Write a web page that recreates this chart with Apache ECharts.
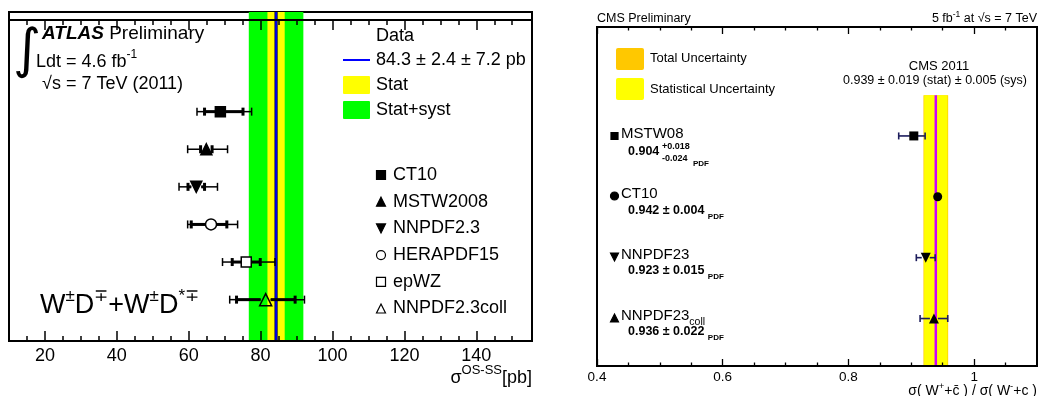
<!DOCTYPE html>
<html><head><meta charset="utf-8">
<script src="https://cdn.jsdelivr.net/npm/echarts@6/dist/echarts.min.js"></script>
<style>
html,body{margin:0;padding:0;background:#fff}
#wrap{position:relative;width:1038px;height:396px}
#c,#ov{position:absolute;left:0;top:0;width:1038px;height:396px}
#ov{pointer-events:none}
</style>
</head><body><div id="wrap"><div id="c"></div><div id="ov"></div></div>
<script>
// ===== Left panel (ATLAS) data =====
const atlasModels   = ['CT10', 'MSTW2008', 'NNPDF2.3', 'HERAPDF15', 'epWZ', 'NNPDF2.3coll'];
const atlasRow      = [6, 5, 4, 3, 2, 1];
const atlasCentral  = [68.8, 64.9, 62.1, 66.2, 76.0, 81.4];
const atlasInnerLo  = [64.4, 63.3, 59.8, 60.7, 72.1, 73.3];
const atlasInnerHi  = [75.1, 66.5, 64.4, 70.6, 79.9, 89.6];
const atlasOuterLo  = [62.3, 59.7, 57.3, 59.7, 69.4, 71.4];
const atlasOuterHi  = [77.5, 70.8, 68.0, 73.6, 84.0, 92.2];
const atlasMeas     = 84.3;
const atlasStat     = 2.4;
const atlasSyst     = 7.2;
const atlasTickLabels = [20, 40, 60, 80, 100, 120, 140];
const atlasMinorTicks = [15, 25, 30, 35, 45, 50, 55, 65, 70, 75, 85, 90, 95, 105, 110, 115, 125, 130, 135, 145, 150, 155];

// ===== Right panel (CMS) data =====
const cmsModels  = ['MSTW08', 'CT10', 'NNPDF23', 'NNPDF23coll'];
const cmsRow     = [4, 3, 2, 1];
const cmsCentral = [0.904, 0.942, 0.923, 0.936];
const cmsErrLo   = [0.024, 0.004, 0.015, 0.022];
const cmsErrHi   = [0.018, 0.004, 0.015, 0.022];
const cmsMeas    = 0.939;
const cmsStat    = 0.019;
const cmsSyst    = 0.005;
const cmsBandTop = 4.67;
const cmsTickLabels = [0.4, 0.6, 0.8, 1.0];
const cmsMinorTicks = [0.45, 0.5, 0.55, 0.65, 0.7, 0.75, 0.85, 0.9, 0.95, 1.05];

// ===== styles / layout =====
const FONT = "'Liberation Sans', Arial, Helvetica, sans-serif";
const atlasMarkerStyle = [
  {symbol: 'rect', size: 10, fill: '#000'},
  {symbol: 'triangle', size: 11, fill: '#000'},
  {symbol: 'triangle', size: 11, fill: '#000', rotate: 180},
  {symbol: 'circle', size: 11, fill: '#fff'},
  {symbol: 'rect', size: 10, fill: '#fff'},
  {symbol: 'triangle', size: 12, fill: 'rgba(0,0,0,0)'}
];
const cmsMarkerStyle = [
  {symbol: 'rect', size: 9},
  {symbol: 'circle', size: 9},
  {symbol: 'triangle', size: 10, rotate: 180},
  {symbol: 'triangle', size: 10}
];
const GRID_ATLAS = {left: 9, top: 12, width: 523, height: 329};
const GRID_CMS = {left: 597, top: 27, width: 440, height: 339};
const AX = {atlas: {min: 10, max: 155.5, ymin: -0.1, ymax: 8.65}, cms: {min: 0.4, max: 1.1, ymin: 0.22, ymax: 5.79}};

const chart = echarts.init(document.getElementById('c'));

function xAx(grid, min, max, vals, label) {
  return {
    type: 'value', gridIndex: grid, min: min, max: max,
    axisLine: {onZero: false, lineStyle: {color: '#000', width: 2}},
    splitLine: {show: false},
    axisTick: {show: false},
    axisLabel: Object.assign({show: true, customValues: vals, color: '#000', fontFamily: FONT}, label)
  };
}

const atlasTotal = Math.sqrt(atlasStat * atlasStat + atlasSyst * atlasSyst);
const cmsTotal = Math.sqrt(cmsStat * cmsStat + cmsSyst * cmsSyst);

function bandRender(params, api) {
  const cs = params.coordSys;
  const x0 = api.coord([api.value(0), api.value(2)]);
  const x1 = api.coord([api.value(1), api.value(2)]);
  const top = api.value(3) ? x0[1] : cs.y;
  return {type: 'rect', shape: {x: x0[0], y: top, width: x1[0] - x0[0], height: cs.y + cs.height - top},
    style: {fill: api.visual('color')}};
}
function vlineRender(params, api) {
  const cs = params.coordSys;
  const p = api.coord([api.value(0), api.value(1)]);
  const top = api.value(2) ? p[1] : cs.y;
  const w = api.value(3);
  return {type: 'line', shape: {x1: p[0], y1: top, x2: p[0], y2: cs.y + cs.height},
    style: {stroke: api.visual('color'), lineWidth: w}};
}
function atlasErrRender(params, api) {
  const yv = api.value(1);
  const c = api.coord([api.value(0), yv]);
  const oL = api.coord([api.value(2), yv])[0], oH = api.coord([api.value(3), yv])[0];
  const iL = api.coord([api.value(4), yv])[0], iH = api.coord([api.value(5), yv])[0];
  const y = c[1], g = 5, kids = [];
  const seg = (a, b, w) => { if (b > a) kids.push({type: 'line', shape: {x1: a, y1: y, x2: b, y2: y}, style: {stroke: '#000', lineWidth: w}}); };
  const cap = (x, w) => kids.push({type: 'line', shape: {x1: x, y1: y - 4, x2: x, y2: y + 4}, style: {stroke: '#000', lineWidth: w}});
  seg(oL, c[0] - g, 1.5); seg(c[0] + g, oH, 1.5);
  seg(iL, c[0] - g, 3); seg(c[0] + g, iH, 3);
  cap(oL, 1.5); cap(oH, 1.5); cap(iL, 3); cap(iH, 3);
  return {type: 'group', children: kids};
}
function cmsErrRender(params, api) {
  const yv = api.value(1);
  const c = api.coord([api.value(0), yv]);
  const lo = api.coord([api.value(2), yv])[0], hi = api.coord([api.value(3), yv])[0];
  const y = c[1], g = 4, kids = [], col = '#1c1c5c';
  const seg = (a, b) => { if (b > a) kids.push({type: 'line', shape: {x1: a, y1: y, x2: b, y2: y}, style: {stroke: col, lineWidth: 1.6}}); };
  const cap = (x) => kids.push({type: 'line', shape: {x1: x, y1: y - 3.5, x2: x, y2: y + 3.5}, style: {stroke: col, lineWidth: 1.6}});
  seg(lo, c[0] - g); seg(c[0] + g, hi);
  if (c[0] - lo > g) cap(lo);
  if (hi - c[0] > g) cap(hi);
  return {type: 'group', children: kids};
}

function txt(x, y, text, size, extra) {
  return {type: 'text', x: x, y: y, z: 100, silent: true,
    style: Object.assign({text: text, fontSize: size, fontFamily: FONT, fill: '#000',
      align: 'left', verticalAlign: 'middle', textAlign: 'left', textVerticalAlign: 'middle'}, extra || {})};
}
function richTok(size, lh, va, more) {
  return Object.assign({fontSize: size, fontFamily: FONT, fill: '#000', lineHeight: lh, verticalAlign: va}, more || {});
}
function sym(kind, cx, cy, s, fill) {
  const st = {fill: fill, stroke: '#000', lineWidth: 1.2};
  if (kind === 'rect') return {type: 'rect', z: 100, shape: {x: cx - s / 2, y: cy - s / 2, width: s, height: s}, style: st};
  if (kind === 'circle') return {type: 'circle', z: 100, shape: {cx: cx, cy: cy, r: s / 2}, style: st};
  if (kind === 'up') return {type: 'polygon', z: 100, shape: {points: [[cx, cy - s / 2], [cx + s / 2, cy + s / 2], [cx - s / 2, cy + s / 2]]}, style: st};
  return {type: 'polygon', z: 100, shape: {points: [[cx, cy + s / 2], [cx + s / 2, cy - s / 2], [cx - s / 2, cy - s / 2]]}, style: st};
}

const graphics = [];
// ---- ATLAS texts ----
graphics.push(txt(13, 53, '\u222B', 54, {fontFamily: "'DejaVu Sans', sans-serif"}));
graphics.push(txt(42, 34, '{a|ATLAS}{m| Preliminary}', 19, {rich: {
  a: richTok(19, 22, 'middle', {fontWeight: 'bold', fontStyle: 'italic'}), m: richTok(19, 22, 'middle')}}));
graphics.push(txt(36, 62, '{m|Ldt = 4.6 fb}{s|-1}', 18, {rich: {m: richTok(18, 26, 'middle'), s: richTok(12, 12, 'top')}}));
graphics.push(txt(42, 84, '\u221As = 7 TeV (2011)', 18));
graphics.push(txt(376, 36, 'Data', 18));
graphics.push(txt(376, 60, '84.3 \u00B1 2.4 \u00B1 7.2 pb', 18));
graphics.push(txt(376, 85, 'Stat', 18));
graphics.push(txt(376, 110, 'Stat+syst', 18));
graphics.push({type: 'line', z: 100, shape: {x1: 343, y1: 60, x2: 370, y2: 60}, style: {stroke: '#0000ff', lineWidth: 2}});
graphics.push({type: 'rect', z: 100, shape: {x: 343, y: 76, width: 27, height: 18, r: 1}, style: {fill: '#ffff00'}});
graphics.push({type: 'rect', z: 100, shape: {x: 343, y: 101, width: 27, height: 18, r: 1}, style: {fill: '#00ff00'}});
const atlasLegKinds = [['rect', '#000'], ['up', '#000'], ['down', '#000'], ['circle', '#fff'], ['rect', '#fff'], ['up', '#fff']];
atlasModels.forEach((m, i) => {
  const yy = 175 + 26.7 * i;
  graphics.push(sym(atlasLegKinds[i][0], 381, yy, 9, atlasLegKinds[i][1]));
  graphics.push(txt(393, yy, m, 18));
});
graphics.push(txt(40, 306, '{m|W}{s|\u00B1}{m|D}{s|\u2213}{m|+W}{s|\u00B1}{m|D}{s|*\u2213}', 27, {rich: {
  m: richTok(27, 36, 'middle'), s: richTok(17, 17, 'top')}}));
graphics.push(txt(532, 378, '{m|\u03C3}{s|OS-SS}{m|[pb]}', 18, {align: 'right', textAlign: 'right', rich: {
  m: richTok(18, 28, 'middle'), s: richTok(13, 13, 'top')}}));

// ---- CMS texts ----
graphics.push(txt(597, 19, 'CMS Preliminary', 12.5));
graphics.push(txt(1037, 19, '{m|5 fb}{s|-1}{m| at \u221As = 7 TeV}', 12.5, {align: 'right', textAlign: 'right', rich: {
  m: richTok(12.5, 18, 'middle'), s: richTok(8.5, 8.5, 'top')}}));
graphics.push({type: 'rect', z: 100, shape: {x: 616, y: 48, width: 28, height: 22, r: 2}, style: {fill: '#ffc800'}});
graphics.push({type: 'rect', z: 100, shape: {x: 616, y: 78, width: 28, height: 22, r: 2}, style: {fill: '#ffff00'}});
graphics.push(txt(650, 58.5, 'Total Uncertainty', 13));
graphics.push(txt(650, 89, 'Statistical Uncertainty', 13));
graphics.push(txt(939, 66, 'CMS 2011', 13, {align: 'center', textAlign: 'center'}));
graphics.push(txt(935, 80.5, '0.939 \u00B1 0.019 (stat) \u00B1 0.005 (sys)', 12.5, {align: 'center', textAlign: 'center'}));
const cmsLegKinds = ['rect', 'circle', 'down', 'up'];
const cmsLegY = [136, 196, 257, 318];
cmsModels.forEach((m, i) => {
  graphics.push(sym(cmsLegKinds[i], 614.5, cmsLegY[i], cmsLegKinds[i] === 'rect' ? 7 : 8, '#000'));
});
graphics.push(txt(621, 133.5, 'MSTW08', 15));
graphics.push(txt(621, 193.5, 'CT10', 15));
graphics.push(txt(621, 254.5, 'NNPDF23', 15));
graphics.push(txt(621, 315.5, '{m|NNPDF23}{s|coll}', 15, {rich: {m: richTok(15, 24, 'middle'), s: richTok(10.5, 10, 'bottom')}}));
const bold = {fontWeight: 'bold'};
graphics.push(txt(628, 152, '0.904', 12.5, bold));
graphics.push(txt(662, 147, '+0.018', 9, bold));
graphics.push(txt(662, 159, '-0.024', 9, bold));
graphics.push(txt(693, 163.5, 'PDF', 8, bold));
const pdfRich = {v: richTok(12.5, 20, 'middle', bold), p: richTok(8, 8, 'bottom', bold)};
graphics.push(txt(628, 211, '{v|0.942 \u00B1 0.004 }{p|PDF}', 12.5, {rich: pdfRich}));
graphics.push(txt(628, 271, '{v|0.923 \u00B1 0.015 }{p|PDF}', 12.5, {rich: pdfRich}));
graphics.push(txt(628, 332, '{v|0.936 \u00B1 0.022 }{p|PDF}', 12.5, {rich: pdfRich}));
graphics.push(txt(1037, 391, '{m|\u03C3( W}{s|+}{m|+c\u0304 ) / \u03C3( W}{s|-}{m|+c )}', 14, {align: 'right', textAlign: 'right', rich: {
  m: richTok(14, 20, 'middle'), s: richTok(9.5, 9.5, 'top')}}));

chart.setOption({
  animation: false,
  backgroundColor: '#fff',
  grid: [
    Object.assign({show: true, borderColor: '#000', borderWidth: 2}, GRID_ATLAS),
    Object.assign({show: true, borderColor: '#000', borderWidth: 2}, GRID_CMS)
  ],
  xAxis: [
    xAx(0, AX.atlas.min, AX.atlas.max, atlasTickLabels, {fontSize: 18, margin: 6}),
    xAx(1, AX.cms.min, AX.cms.max, cmsTickLabels, {fontSize: 13.5, margin: 4, formatter: v => (v === 1 ? '1' : String(v))})
  ],
  yAxis: [
    {type: 'value', gridIndex: 0, min: AX.atlas.ymin, max: AX.atlas.ymax, show: false},
    {type: 'value', gridIndex: 1, min: AX.cms.ymin, max: AX.cms.ymax, show: false}
  ],
  graphic: {elements: graphics},
  series: [
    {type: 'custom', xAxisIndex: 0, yAxisIndex: 0, renderItem: bandRender, itemStyle: {color: '#00ff00'},
      encode: {x: [0, 1], y: 2}, data: [[atlasMeas - atlasTotal, atlasMeas + atlasTotal, 0, 0]]},
    {type: 'custom', xAxisIndex: 0, yAxisIndex: 0, renderItem: bandRender, itemStyle: {color: '#ffff00'},
      encode: {x: [0, 1], y: 2}, data: [[atlasMeas - atlasStat, atlasMeas + atlasStat, 0, 0]]},
    {type: 'custom', xAxisIndex: 0, yAxisIndex: 0, renderItem: vlineRender, itemStyle: {color: '#000050'},
      encode: {x: 0, y: 1}, data: [[atlasMeas, 0, 0, 3.2]]},
    {type: 'custom', xAxisIndex: 0, yAxisIndex: 0, renderItem: vlineRender, itemStyle: {color: '#0000ff'},
      encode: {x: 0, y: 1}, data: [[atlasMeas, 0, 0, 1.6]]},
    {type: 'custom', xAxisIndex: 0, yAxisIndex: 0, renderItem: atlasErrRender,
      encode: {x: [0, 2, 3, 4, 5], y: 1},
      data: atlasModels.map((m, i) => [atlasCentral[i], atlasRow[i], atlasOuterLo[i], atlasOuterHi[i], atlasInnerLo[i], atlasInnerHi[i]])},
    {type: 'scatter', xAxisIndex: 0, yAxisIndex: 0,
      data: atlasModels.map((m, i) => ({
        value: [atlasCentral[i], atlasRow[i]], symbol: atlasMarkerStyle[i].symbol, symbolSize: atlasMarkerStyle[i].size,
        symbolRotate: atlasMarkerStyle[i].rotate || 0,
        itemStyle: {color: atlasMarkerStyle[i].fill, borderColor: '#000', borderWidth: 1.5, opacity: 1}
      }))},
    {type: 'custom', xAxisIndex: 1, yAxisIndex: 1, renderItem: bandRender, itemStyle: {color: '#ffc800'},
      encode: {x: [0, 1], y: 2}, data: [[cmsMeas - cmsTotal, cmsMeas + cmsTotal, cmsBandTop, 1]]},
    {type: 'custom', xAxisIndex: 1, yAxisIndex: 1, renderItem: bandRender, itemStyle: {color: '#ffff00'},
      encode: {x: [0, 1], y: 2}, data: [[cmsMeas - cmsStat + 0.0004, cmsMeas + cmsStat - 0.0004, cmsBandTop, 1]]},
    {type: 'custom', xAxisIndex: 1, yAxisIndex: 1, renderItem: vlineRender, itemStyle: {color: '#cc00ff'},
      encode: {x: 0, y: 1}, data: [[cmsMeas, cmsBandTop, 1, 2.5]]},
    {type: 'custom', xAxisIndex: 1, yAxisIndex: 1, renderItem: cmsErrRender,
      encode: {x: [0, 2, 3], y: 1},
      data: cmsModels.map((m, i) => [cmsCentral[i], cmsRow[i], cmsCentral[i] - cmsErrLo[i], cmsCentral[i] + cmsErrHi[i]])},
    {type: 'scatter', xAxisIndex: 1, yAxisIndex: 1,
      data: cmsModels.map((m, i) => ({
        value: [cmsCentral[i], cmsRow[i]], symbol: cmsMarkerStyle[i].symbol, symbolSize: cmsMarkerStyle[i].size,
        symbolRotate: cmsMarkerStyle[i].rotate || 0,
        itemStyle: {color: '#000', opacity: 1}
      }))}
  ]
});

// ===== Tick overlay: a transparent second chart whose axes share the same ranges and grid boxes =====
const ov = echarts.init(document.getElementById('ov'));
const ovGrids = [], ovX = [], ovY = [];
function tickAxis(rect, min, max, vals, len, pos, w) {
  const gi = ovGrids.length;
  ovGrids.push(Object.assign({show: false}, rect));
  ovX.push({type: 'value', gridIndex: gi, position: pos, min: min, max: max,
    axisLine: {onZero: false, lineStyle: {color: '#000', width: 2}},
    splitLine: {show: false},
    axisLabel: {customValues: vals, color: 'rgba(0,0,0,0)'},
    axisTick: {show: true, inside: true, length: len, customValues: vals, lineStyle: {color: '#000', width: w}}});
  ovY.push({type: 'value', gridIndex: gi, min: 0, max: 1, show: false});
}
['bottom', 'top'].forEach(pos => {
  tickAxis(GRID_ATLAS, AX.atlas.min, AX.atlas.max, atlasTickLabels, 10, pos, 1.5);
  tickAxis(GRID_ATLAS, AX.atlas.min, AX.atlas.max, atlasMinorTicks, 5, pos, 1.5);
  tickAxis(GRID_CMS, AX.cms.min, AX.cms.max, cmsTickLabels, 7, pos, 1.3);
  tickAxis(GRID_CMS, AX.cms.min, AX.cms.max, cmsMinorTicks, 3.5, pos, 1.3);
});
ov.setOption({animation: false, backgroundColor: 'rgba(0,0,0,0)', grid: ovGrids, xAxis: ovX, yAxis: ovY});
</script>
</body></html>
